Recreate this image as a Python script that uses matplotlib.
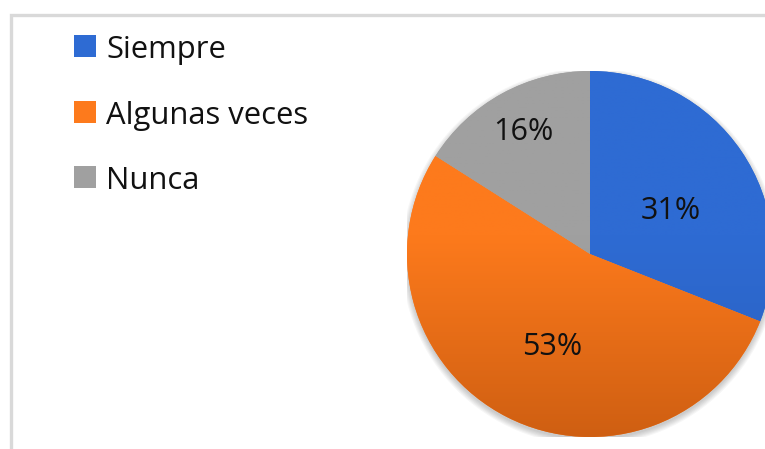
import matplotlib.pyplot as plt
import numpy as np
from matplotlib.colors import LinearSegmentedColormap

categories = ["Siempre", "Algunas veces", "Nunca"]
values = [31, 53, 16]
colors = ["#2e6bd3", "#fd7a1c", "#a0a0a0"]
dark_colors = ["#2a5fbe", "#cf5f12", "#8f8f8f"]
label_dist = [0.5, 0.55, 0.76]
label_shift = [-6, 5, 0]  # degrees, nudges label angle

W, H = 765, 449
fig = plt.figure(figsize=(W / 100, H / 100), dpi=100)

# chart border (light gray frame, cut off by the image on right/bottom)
border = plt.Rectangle((10.5 / W, -0.1), 1.2, (H - 15.5) / H + 0.1,
                       transform=fig.transFigure, fill=False,
                       ec="#d9d9d9", lw=2.4)
fig.add_artist(border)

cx, cy, r = 590, 254, 183
ax = fig.add_axes([(cx - r) / W, (H - cy - r) / H, 2 * r / W, 2 * r / H])
ax.set_aspect("equal")
ax.axis("off")

# soft shadow
for k in range(6):
    sh = plt.Circle((0.0, -0.015), 1.0 + 0.006 * k, color="#000000",
                    alpha=0.035, lw=0, zorder=0)
    ax.add_patch(sh)

wedges, _ = ax.pie(values, colors=colors, startangle=90, counterclock=False,
                   radius=1.0, wedgeprops=dict(lw=0))

# vertical gradient fill, darker toward the bottom
grad = np.linspace(0, 1, 256).reshape(-1, 1)
for w, c0, c1 in zip(wedges, colors, dark_colors):
    cmap = LinearSegmentedColormap.from_list("g", [(0, c0), (0.45, c0), (1, c1)])
    im = ax.imshow(grad, cmap=cmap, extent=[-1, 1, -1, 1], origin="upper",
                   aspect="auto", zorder=2)
    im.set_clip_path(w)
    w.set_zorder(1)

for w, v, d, s in zip(wedges, values, label_dist, label_shift):
    ang = np.deg2rad((w.theta1 + w.theta2) / 2 + s)
    ax.text(d * np.cos(ang), d * np.sin(ang), f"{v}%", ha="center",
            va="center", fontsize=22, family="Open Sans", color="#111111",
            zorder=3)

ax.set_xlim(-1, 1)
ax.set_ylim(-1, 1)

# legend (y = text baseline in pixels from top)
leg_y = [58, 124, 189]
for name, c, y in zip(categories, colors, leg_y):
    fig.add_artist(plt.Rectangle((74 / W, (H - y + 1) / H), 22 / W, 22 / H,
                                 transform=fig.transFigure, color=c, lw=0))
    fig.text(106 / W, (H - y) / H, name, fontsize=22.3, family="Open Sans",
             va="baseline", ha="left", color="#111111")

fig.savefig("out.png", dpi=100)
